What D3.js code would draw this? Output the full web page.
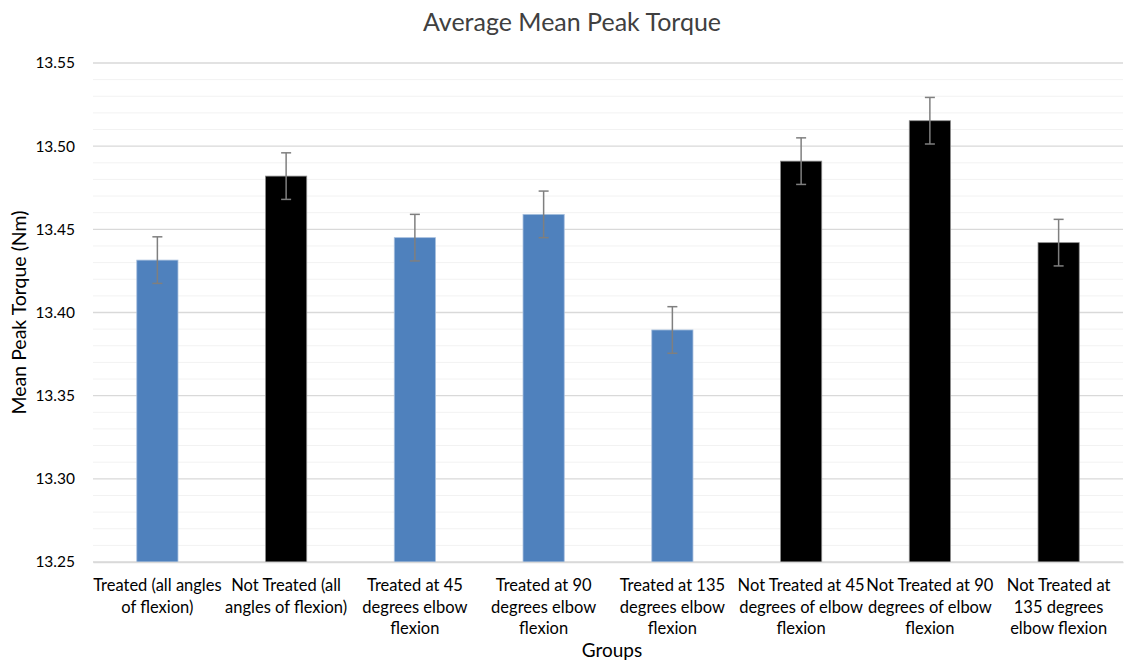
<!DOCTYPE html>
<html>
<head>
<meta charset="utf-8">
<script src="https://cdn.jsdelivr.net/npm/d3@7"></script>
<style>
  body { margin: 0; background: #fff; }
  text { font-family: Lato, "Open Sans", sans-serif; }
</style>
</head>
<body>
<div id="grafico"></div>
<script>
// dados do gráfico
const categorias = [
    "Treated (all angles of flexion)",
    "Not Treated (all angles of flexion)",
    "Treated at 45 degrees elbow flexion",
    "Treated at 90 degrees elbow flexion",
    "Treated at 135 degrees elbow flexion",
    "Not Treated at 45 degrees of elbow flexion",
    "Not Treated at 90 degrees of elbow flexion",
    "Not Treated at 135 degrees elbow flexion"
];
const rotulos = [
    ["Treated (all angles", "of flexion)"],
    ["Not Treated (all", "angles of flexion)"],
    ["Treated at 45", "degrees elbow", "flexion"],
    ["Treated at 90", "degrees elbow", "flexion"],
    ["Treated at 135", "degrees elbow", "flexion"],
    ["Not Treated at 45", "degrees of elbow", "flexion"],
    ["Not Treated at 90", "degrees of elbow", "flexion"],
    ["Not Treated at", "135 degrees", "elbow flexion"]
];
const valores = [13.4315, 13.482, 13.445, 13.459, 13.3895, 13.491, 13.5153, 13.442];
const erros = [0.014, 0.014, 0.014, 0.014, 0.014, 0.014, 0.014, 0.014];
const tratado = [true, false, true, true, true, false, false, false];
const ticksY = [13.25, 13.30, 13.35, 13.40, 13.45, 13.50, 13.55];

const width = 1134;
const height = 662;
const margem = { top: 63, right: 11, bottom: 100, left: 93 };

const svg = d3.select("#grafico")
    .append("svg")
    .attr("width", width)
    .attr("height", height);

const xScale = d3.scaleBand()
    .domain(categorias)
    .range([margem.left, width - margem.right])
    .paddingInner(0.68)
    .paddingOuter(0.34);

const yScale = d3.scaleLinear()
    .domain([13.25, 13.55])
    .range([height - margem.bottom, margem.top]);

// grade secundária
const minorTicks = d3.range(0, 31).map(i => 13.25 + i * 0.01).filter((d, i) => i % 5 !== 0);
svg.append("g")
    .selectAll("line")
    .data(minorTicks)
    .enter().append("line")
    .attr("x1", margem.left)
    .attr("x2", width - margem.right)
    .attr("y1", d => yScale(d))
    .attr("y2", d => yScale(d))
    .attr("stroke", "#f2f2f2")
    .attr("stroke-width", 1);

// grade principal
svg.append("g")
    .selectAll("line")
    .data(ticksY)
    .enter().append("line")
    .attr("x1", margem.left)
    .attr("x2", width - margem.right)
    .attr("y1", d => yScale(d))
    .attr("y2", d => yScale(d))
    .attr("stroke", "#d9d9d9")
    .attr("stroke-width", 1.3);

// barras
svg.selectAll(".barra")
    .data(valores)
    .enter().append("rect")
    .attr("class", "barra")
    .attr("x", (d, i) => xScale(categorias[i]))
    .attr("y", d => yScale(d))
    .attr("width", xScale.bandwidth())
    .attr("height", d => yScale(13.25) - yScale(d))
    .attr("fill", (d, i) => tratado[i] ? "#4f81bd" : "#000000")
    .attr("stroke", (d, i) => tratado[i] ? "#a7c0de" : "#8c8c8c")
    .attr("stroke-width", 0.8);

// barras de erro
const erroG = svg.append("g").attr("stroke", "#7f7f7f").attr("stroke-width", 1.5);
valores.forEach((v, i) => {
    const cx = xScale(categorias[i]) + xScale.bandwidth() / 2;
    const y1 = yScale(v + erros[i]);
    const y2 = yScale(v - erros[i]);
    erroG.append("line").attr("x1", cx).attr("x2", cx).attr("y1", y1).attr("y2", y2);
    erroG.append("line").attr("x1", cx - 5).attr("x2", cx + 5).attr("y1", y1).attr("y2", y1);
    erroG.append("line").attr("x1", cx - 5).attr("x2", cx + 5).attr("y1", y2).attr("y2", y2);
});

// eixo Y
const eixoY = svg.append("g")
    .attr("transform", `translate(${margem.left},0)`)
    .call(d3.axisLeft(yScale).tickValues(ticksY).tickFormat(d3.format(".2f")).tickSize(0).tickPadding(18));
eixoY.select(".domain").remove();
eixoY.selectAll("text")
    .attr("font-family", "Lato, sans-serif")
    .attr("font-size", 15.5)
    .attr("fill", "#000");

// eixo X
const eixoX = svg.append("g")
    .attr("transform", `translate(0,${yScale(13.25)})`)
    .call(d3.axisBottom(xScale).tickSize(0).tickFormat(""));
eixoX.select(".domain").attr("stroke", "#d9d9d9").attr("stroke-width", 1.3);

const rotG = svg.append("g");
rotulos.forEach((linhas, i) => {
    const cx = xScale(categorias[i]) + xScale.bandwidth() / 2;
    const t = rotG.append("text")
        .attr("text-anchor", "middle")
        .attr("font-size", 16.5)
        .attr("fill", "#000");
    linhas.forEach((l, j) => {
        t.append("tspan").attr("x", cx).attr("y", 591 + j * 21.5).text(l);
    });
});

// títulos
svg.append("text")
    .attr("x", 572)
    .attr("y", 31)
    .attr("text-anchor", "middle")
    .attr("font-size", 25)
    .attr("fill", "#404040")
    .text("Average Mean Peak Torque");

svg.append("text")
    .attr("x", 612)
    .attr("y", 657)
    .attr("text-anchor", "middle")
    .attr("font-size", 19)
    .attr("fill", "#000")
    .text("Groups");

svg.append("text")
    .attr("transform", `translate(26,${(margem.top + yScale(13.25)) / 2}) rotate(-90)`)
    .attr("text-anchor", "middle")
    .attr("font-size", 19.5)
    .attr("fill", "#000")
    .text("Mean Peak Torque (Nm)");
</script>
</body>
</html>
